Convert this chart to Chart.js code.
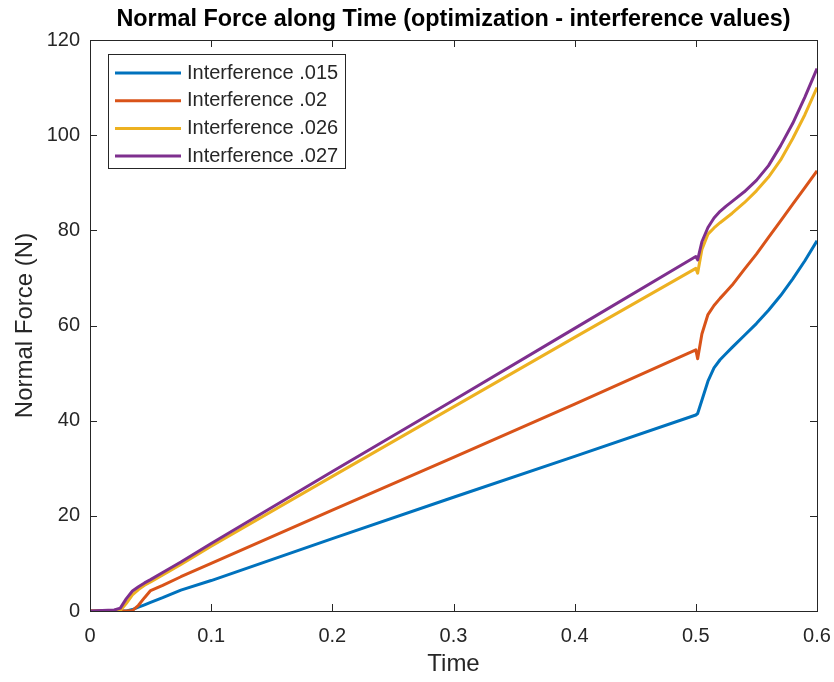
<!DOCTYPE html>
<html>
<head>
<meta charset="utf-8">
<title>Normal Force along Time</title>
<script src="https://cdn.jsdelivr.net/npm/chart.js@4.4.1/dist/chart.umd.min.js"></script>
<style>
  html, body { margin: 0; padding: 0; background: #fff; }
  canvas { display: block; background: #fff; }
</style>
</head>
<body>
<canvas id="forceChart" width="834" height="682"></canvas>
<script>
// sample times (s), shared by all four runs
var times = [0, 0.02, 0.025, 0.03, 0.035, 0.04, 0.045, 0.05, 0.06, 0.075, 0.1, 0.2, 0.3, 0.4,
  0.5, 0.5015, 0.505, 0.51, 0.515, 0.52, 0.525, 0.53, 0.54, 0.55, 0.56, 0.57, 0.58, 0.59, 0.6];

var interference015 = [0, 0, 0, 0, 0.3, 0.8, 1.3, 1.8, 2.8, 4.4, 6.4, 15.2, 23.9, 32.5,
  41.2, 41.5, 44.3, 48.3, 51.1, 52.8, 54.1, 55.4, 57.9, 60.4, 63.2, 66.3, 69.8, 73.6, 77.8];
var interference02 = [0, 0, 0, 0, 0.1, 1.2, 2.8, 4.3, 5.4, 7.2, 10, 21.2, 32.3, 43.5,
  54.9, 53, 58.2, 62.3, 64.2, 65.7, 67.1, 68.5, 71.8, 75, 78.5, 82, 85.5, 89, 92.5];
var interference026 = [0, 0, 0.1, 1.6, 3.4, 4.5, 5.4, 6.1, 7.6, 9.8, 13.6, 28.3, 42.9, 57.5,
  72, 71, 76, 79.2, 80.5, 81.6, 82.6, 83.6, 85.8, 88.3, 91.2, 94.8, 99.3, 104.3, 110];
var interference027 = [0, 0.2, 0.6, 2.6, 4.2, 5.1, 5.9, 6.6, 8.1, 10.3, 14.2, 29.3, 44.3, 59.4,
  74.5, 73.8, 77.6, 80.6, 82.6, 84, 85.1, 86.1, 88.1, 90.5, 93.6, 97.8, 102.5, 108, 114];

var seriesNames = ['Interference .015', 'Interference .02', 'Interference .026', 'Interference .027'];
var seriesColors = ['#0072BD', '#D95319', '#EDB120', '#7E2F8E'];
var xTicks = [0, 0.1, 0.2, 0.3, 0.4, 0.5, 0.6];
var yTicks = [0, 20, 40, 60, 80, 100, 120];
var chartTitle = 'Normal Force along Time (optimization - interference values)';

var FONT = 'Liberation Sans, Arial, Helvetica, sans-serif';
var AXIS_COLOR = '#262626';

function toPoints(values) {
  return values.map(function(v, i) { return { x: times[i], y: v }; });
}

// title centred over the plot area rather than the whole canvas
var axesTitle = {
  id: 'axesTitle',
  afterDraw: function(chart) {
    var ctx = chart.ctx, a = chart.chartArea;
    ctx.save();
    ctx.font = 'bold 23.4px ' + FONT;
    ctx.fillStyle = '#000';
    ctx.textAlign = 'center';
    ctx.textBaseline = 'middle';
    ctx.fillText(chartTitle, (a.left + a.right) / 2, a.top - 20);
    ctx.restore();
  }
};

// box around the axes with inward tick marks on all four sides
var boxAxes = {
  id: 'boxAxes',
  afterDatasetsDraw: function(chart) {
    var ctx = chart.ctx, a = chart.chartArea, len = 7;
    var xs = chart.scales.x, ys = chart.scales.y;
    ctx.save();
    ctx.strokeStyle = AXIS_COLOR;
    ctx.lineWidth = 1;
    ctx.beginPath();
    xTicks.forEach(function(t) {
      var px = Math.round(xs.getPixelForValue(t)) + 0.5;
      ctx.moveTo(px, a.bottom); ctx.lineTo(px, a.bottom - len);
      ctx.moveTo(px, a.top); ctx.lineTo(px, a.top + len);
    });
    yTicks.forEach(function(t) {
      var py = Math.round(ys.getPixelForValue(t)) + 0.5;
      ctx.moveTo(a.left, py); ctx.lineTo(a.left + len, py);
      ctx.moveTo(a.right, py); ctx.lineTo(a.right - len, py);
    });
    ctx.stroke();
    ctx.strokeRect(Math.round(a.left) + 0.5, Math.round(a.top) + 0.5,
      Math.round(a.right - a.left), Math.round(a.bottom - a.top));
    ctx.restore();
  }
};

// legend in the upper left corner of the plot area
var boxLegend = {
  id: 'boxLegend',
  afterDraw: function(chart) {
    var ctx = chart.ctx, a = chart.chartArea;
    var x0 = a.left + 18, y0 = a.top + 14, w = 237, h = 114, row = 27.7;
    ctx.save();
    ctx.fillStyle = '#fff';
    ctx.fillRect(x0, y0, w, h);
    ctx.strokeStyle = AXIS_COLOR;
    ctx.lineWidth = 1;
    ctx.strokeRect(x0 + 0.5, y0 + 0.5, w, h);
    ctx.font = '20px ' + FONT;
    ctx.textBaseline = 'middle';
    chart.data.datasets.forEach(function(ds, i) {
      var y = y0 + 19 + i * row;
      ctx.strokeStyle = ds.borderColor;
      ctx.lineWidth = 3;
      ctx.beginPath();
      ctx.moveTo(x0 + 7, y); ctx.lineTo(x0 + 73, y);
      ctx.stroke();
      ctx.fillStyle = AXIS_COLOR;
      ctx.fillText(ds.label, x0 + 79, y);
    });
    ctx.restore();
  }
};

var allSeries = [interference015, interference02, interference026, interference027];

var ctx = document.getElementById('forceChart').getContext('2d');
var forceChart = new Chart(ctx, {
  type: 'line',
  data: {
    datasets: allSeries.map(function(values, i) {
      return {
        label: seriesNames[i],
        data: toPoints(values),
        borderColor: seriesColors[i],
        backgroundColor: seriesColors[i],
        borderWidth: 3,
        pointRadius: 0,
        fill: false,
        tension: 0,
        borderJoinStyle: 'round',
        order: allSeries.length - i
      };
    })
  },
  options: {
    responsive: false,
    animation: false,
    layout: { padding: { left: 0, right: 17, top: 40, bottom: 0 } },
    plugins: {
      legend: { display: false },
      tooltip: { enabled: false },
      title: { display: false }
    },
    scales: {
      x: {
        type: 'linear',
        min: 0,
        max: 0.6,
        grid: { display: false, drawTicks: false },
        border: { display: false },
        afterBuildTicks: function(scale) {
          scale.ticks = xTicks.map(function(v) { return { value: v }; });
        },
        ticks: {
          padding: 13,
          color: AXIS_COLOR,
          font: { family: FONT, size: 20 },
          maxRotation: 0,
          callback: function(v) { return v === 0 ? '0' : v.toFixed(1); }
        },
        title: {
          display: true,
          text: 'Time',
          color: AXIS_COLOR,
          font: { family: FONT, size: 24 },
          padding: { top: 0, bottom: 3 }
        },
        afterFit: function(scale) {
          scale.height = 71;
          scale.paddingLeft = 0;
          scale.paddingRight = 0;
        }
      },
      y: {
        type: 'linear',
        min: 0,
        max: 120,
        grid: { display: false, drawTicks: false },
        border: { display: false },
        afterBuildTicks: function(scale) {
          scale.ticks = yTicks.map(function(v) { return { value: v }; });
        },
        ticks: {
          padding: 10,
          color: AXIS_COLOR,
          font: { family: FONT, size: 20 }
        },
        title: {
          display: true,
          text: 'Normal Force (N)',
          color: AXIS_COLOR,
          font: { family: FONT, size: 24 },
          padding: { top: 11, bottom: 0 }
        },
        afterFit: function(scale) {
          scale.width = 90;
          scale.paddingTop = 0;
          scale.paddingBottom = 0;
        }
      }
    }
  },
  plugins: [boxAxes, boxLegend, axesTitle]
});
</script>
</body>
</html>
